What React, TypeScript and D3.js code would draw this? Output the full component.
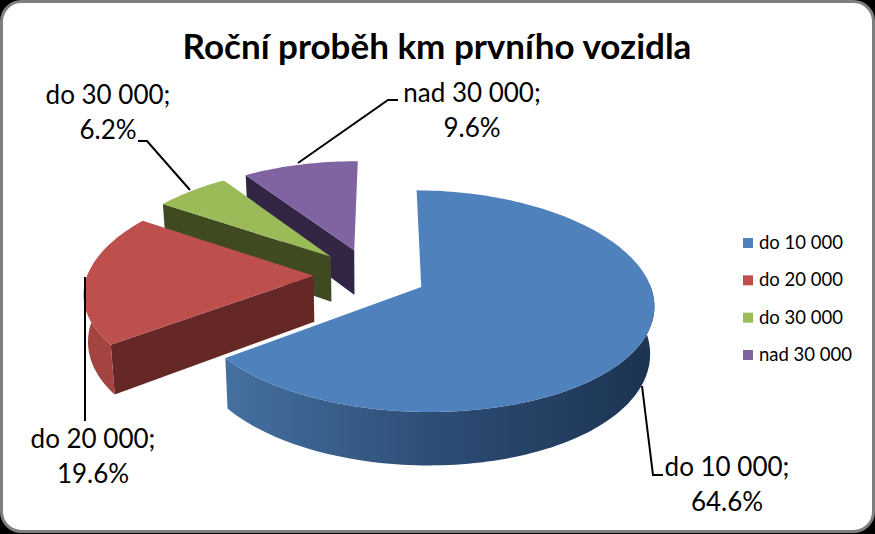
import * as d3 from 'd3';

const categories = ['do 10 000', 'do 20 000', 'do 30 000', 'nad 30 000'];
const shares = [64.6, 19.6, 6.2, 9.6];
const topColors = ['#4f81bd', '#bd4f4c', '#9bbb59', '#8064a2'];
const cutColors = ['#2c4a70', '#652827', '#3f4a20', '#322644'];
const rimColors = ['url(#blueRim)', '#a34440', '#7f9a49', '#6a5387'];
const title = 'Roční proběh km prvního vozidla';

const width = 875;
const height = 534;

// pie geometry, fitted by eye
const cx = 370;
const cy = 275;
const rx = 226;
const ry = 106;
const perspX = 0.14;
const perspY = 0.125;
const explode = 0.25;
const depth = 46;
const rotation = (0.5 * Math.PI) / 180;

// disc coords -> screen, near edge a bit bigger
const project = (u: number, v: number, low = false): [number, number] => {
  const sx = 1 / (1 - perspX * v);
  const sy = 1 / (1 - perspY * v);
  const x = rx * u * sx;
  const y = cy + ry * v * sy;
  if (!low) return [cx + x, y];
  return [cx + x * 0.985, y + depth * sy];
};

const pieLayout = d3
  .pie<number>()
  .sort(null)
  .startAngle(rotation)
  .endAngle(rotation + 2 * Math.PI);

const slices = pieLayout(shares).map((d, i) => {
  const mid = (d.startAngle + d.endAngle) / 2;
  const ou = explode * Math.sin(mid);
  const ov = -explode * Math.cos(mid);
  const steps = Math.max(4, Math.round((d.endAngle - d.startAngle) * 40));
  const angles = d3.range(steps + 1).map((k) => d.startAngle + ((d.endAngle - d.startAngle) * k) / steps);
  const arc = angles.map((a) => [ou + Math.sin(a), ov - Math.cos(a)] as [number, number]);
  // only the part of the rim that faces the viewer
  const front = angles
    .filter((a) => -Math.cos(a) > -0.05)
    .map((a) => [ou + Math.sin(a), ov - Math.cos(a)] as [number, number]);
  return { i, apex: [ou, ov] as [number, number], arc, front, start: d.startAngle };
});

type Slice = (typeof slices)[number];

const line = d3.line<[number, number]>();

const topPath = (s: Slice) =>
  line([project(s.apex[0], s.apex[1]), ...s.arc.map((p) => project(p[0], p[1]))]) + 'Z';

// the cut face under the start edge, the end edges all face away here
const wallPath = (s: Slice) => {
  if (-Math.sin(s.start) < 0.1) return '';
  const p = s.arc[0];
  return (
    line([
      project(s.apex[0], s.apex[1]),
      project(p[0], p[1]),
      project(p[0], p[1], true),
      project(s.apex[0], s.apex[1], true),
    ]) + 'Z'
  );
};

const rimPath = (s: Slice) => {
  if (s.front.length < 2) return '';
  return (
    line([
      ...s.front.map((p) => project(p[0], p[1])),
      ...[...s.front].reverse().map((p) => project(p[0], p[1], true)),
    ]) + 'Z'
  );
};

// back to front
const drawOrder = [3, 2, 1, 0];

// label placement per slice
const labelPos = [
  { x: 727, y: 476 },
  { x: 93, y: 448 },
  { x: 108, y: 104 },
  { x: 472, y: 102 },
];
const leaders: [number, number][][] = [
  [[642, 386], [653, 475], [663, 475]],
  [[85, 277], [85, 421]],
  [[190, 190], [147, 141], [138, 141]],
  [[298, 163], [388, 100], [398, 100]],
];

const legendY = d3.scalePoint<string>().domain(categories).range([243, 355]);

const App = () => {
  return (
    <svg
      width={width}
      height={height}
      viewBox={`0 0 ${width} ${height}`}
      style={{ position: 'absolute', left: 0, top: 0, fontFamily: 'Lato, sans-serif' }}
    >
      <defs>
        <linearGradient id="blueRim" gradientUnits="userSpaceOnUse" x1={228} x2={657} y1={0} y2={0}>
          <stop offset="0" stopColor="#44709f" />
          <stop offset="0.45" stopColor="#2f4f78" />
          <stop offset="1" stopColor="#1b3350" />
        </linearGradient>
      </defs>
      <rect width={width} height={height} fill="#000" />
      <rect x={1.5} y={1.5} width={width - 3} height={height - 4} rx={20} fill="#fff" stroke="#7f7f7f" strokeWidth={3} />
      <text x={437} y={59} textAnchor="middle" fontSize={35} fontWeight={700}>
        {title}
      </text>

      {drawOrder.map((idx) => {
        const s = slices[idx];
        return (
          <g key={idx}>
            <path d={wallPath(s)} fill={cutColors[idx]} />
            <path d={rimPath(s)} fill={rimColors[idx]} />
            <path d={topPath(s)} fill={topColors[idx]} />
          </g>
        );
      })}

      {leaders.map((pts, i) => (
        <path key={i} d={line(pts) ?? ''} fill="none" stroke="#000" strokeWidth={2} />
      ))}

      {categories.map((c, i) => (
        <text key={c} textAnchor="middle" fontSize={26} fill="#000">
          <tspan x={labelPos[i].x} y={labelPos[i].y}>{`${c};`}</tspan>
          <tspan x={labelPos[i].x} y={labelPos[i].y + 35}>{`${shares[i].toFixed(1)}%`}</tspan>
        </text>
      ))}

      {categories.map((c, i) => (
        <g key={c} transform={`translate(743,${legendY(c)})`}>
          <rect x={0} y={-5} width={10} height={10} fill={topColors[i]} />
          <text x={16} y={6} fontSize={18.5}>
            {c}
          </text>
        </g>
      ))}
    </svg>
  );
};

export default App;
